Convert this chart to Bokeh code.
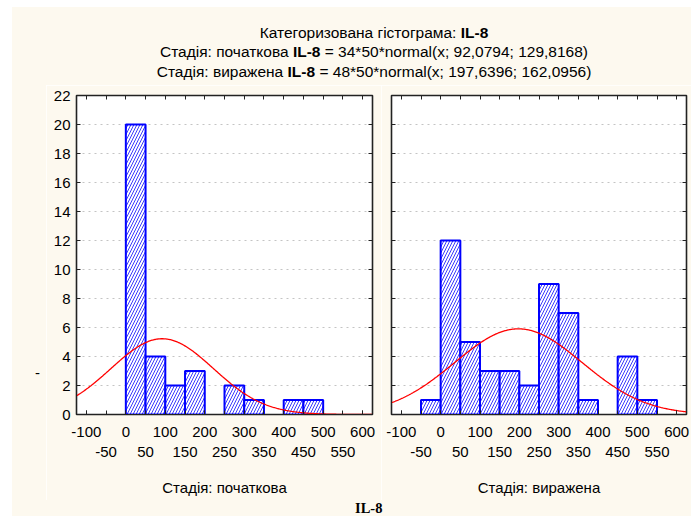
import numpy as np
from bokeh.plotting import figure
from bokeh.models import LinearAxis, FixedTicker, Range1d, Div
from bokeh.layouts import column, row
from bokeh.embed import file_html
from bokeh.resources import INLINE

# ---------------- data ----------------
bin_left = [-50, 0, 50, 100, 150, 200, 250, 300, 350, 400, 450, 500, 550]
bin_width = 50
counts_initial = [0, 20, 4, 2, 3, 0, 2, 1, 0, 1, 1, 0, 0]
counts_expressed = [1, 12, 5, 3, 3, 2, 9, 7, 1, 0, 4, 1, 0]
n_initial, mean_initial, sd_initial = 34, 92.0794, 129.8168
n_expressed, mean_expressed, sd_expressed = 48, 197.6396, 162.0956
x_ticks_row1 = [-100, 0, 100, 200, 300, 400, 500, 600]
x_ticks_row2 = [-50, 50, 150, 250, 350, 450, 550]
y_ticks = [0, 2, 4, 6, 8, 10, 12, 14, 16, 18, 20, 22]
panel_titles = ["Стадія: початкова", "Стадія: виражена"]
variable = "IL-8"
y_label = "-"
main_title = "Категоризована гістограма: "

CREAM = "#FDF9EF"
FONT = "Liberation Sans"
BLUE = "#0000FF"
RED = "#FF0000"
FRAME = "#222222"
FIG_H = 415


def fmt(v):
    return f"{v:.4f}".replace(".", ",")


def hyphen_overrides(ticks):
    return {t: str(t) for t in ticks if t < 0}


def make_panel(counts, n, mu, sd, subtitle, show_y, width, b_left, b_right):
    p = figure(width=width, height=FIG_H, x_range=Range1d(-125, 625), y_range=Range1d(0, 22),
               output_backend="svg", toolbar_location=None,
               min_border_left=b_left, min_border_right=b_right,
               min_border_top=10, min_border_bottom=86,
               background_fill_color="white", border_fill_color=CREAM,
               outline_line_color=FRAME, outline_line_width=1.6)
    p.xgrid.visible = False
    p.ygrid[0].ticker = FixedTicker(ticks=y_ticks)
    p.ygrid.grid_line_color = "#c4c4c4"
    p.ygrid.grid_line_dash = "dotted"
    p.ygrid.grid_line_width = 1

    # bottom axis, first row of labels
    xa = p.xaxis[0]
    xa.ticker = FixedTicker(ticks=x_ticks_row1, minor_ticks=sorted(x_ticks_row1 + x_ticks_row2))
    xa.major_label_overrides = hyphen_overrides(x_ticks_row1)
    xa.major_tick_in = 4
    xa.major_tick_out = 0
    xa.minor_tick_in = 4
    xa.minor_tick_out = 0
    xa.major_tick_line_color = FRAME
    xa.minor_tick_line_color = FRAME
    xa.axis_line_color = FRAME
    xa.major_label_standoff = 12
    xa.major_label_text_font = FONT
    xa.major_label_text_font_size = "15px"
    xa.major_label_text_color = "black"

    # second row of labels + panel subtitle
    xa2 = LinearAxis(ticker=FixedTicker(ticks=x_ticks_row2, minor_ticks=[]))
    xa2.major_label_overrides = hyphen_overrides(x_ticks_row2)
    xa2.axis_line_color = None
    xa2.major_tick_in = 0
    xa2.major_tick_out = 0
    xa2.minor_tick_in = 0
    xa2.minor_tick_out = 0
    xa2.major_label_standoff = 7
    xa2.major_label_text_font = FONT
    xa2.major_label_text_font_size = "15px"
    xa2.major_label_text_color = "black"
    xa2.axis_label = subtitle
    xa2.axis_label_text_font = FONT
    xa2.axis_label_text_font_size = "15px"
    xa2.axis_label_text_font_style = "normal"
    xa2.axis_label_text_color = "black"
    xa2.axis_label_standoff = 19
    p.add_layout(xa2, "below")

    # top ticks
    xt = LinearAxis(ticker=FixedTicker(ticks=[], minor_ticks=sorted(x_ticks_row1 + x_ticks_row2)))
    xt.minor_tick_in = 4
    xt.minor_tick_out = 0
    xt.minor_tick_line_color = FRAME
    xt.axis_line_color = FRAME
    p.add_layout(xt, "above")

    # left axis
    ya = p.yaxis[0]
    if show_y:
        ya.ticker = FixedTicker(ticks=y_ticks, minor_ticks=[])
        ya.major_label_standoff = 6
        ya.major_label_text_font = FONT
        ya.major_label_text_font_size = "15px"
        ya.major_label_text_color = "black"
    else:
        ya.ticker = FixedTicker(ticks=[], minor_ticks=y_ticks)
    ya.major_tick_in = 4
    ya.major_tick_out = 0
    ya.minor_tick_in = 4
    ya.minor_tick_out = 0
    ya.major_tick_line_color = FRAME
    ya.minor_tick_line_color = FRAME
    ya.axis_line_color = FRAME

    # right ticks
    yr = LinearAxis(ticker=FixedTicker(ticks=[], minor_ticks=y_ticks))
    yr.minor_tick_in = 4
    yr.minor_tick_out = 0
    yr.minor_tick_line_color = FRAME
    yr.axis_line_color = FRAME
    p.add_layout(yr, "right")

    # histogram bars
    lefts = [l for l, c in zip(bin_left, counts) if c > 0]
    tops = [c for c in counts if c > 0]
    rights = [l + bin_width for l in lefts]
    p.quad(left=lefts, right=rights, bottom=0, top=tops,
           fill_color="white", hatch_pattern="/", hatch_color="#3a3aff",
           hatch_scale=6, hatch_weight=1.0,
           line_color=BLUE, line_width=2)

    # fitted normal curve
    xs = np.linspace(-125, 625, 401)
    ys = n * bin_width * np.exp(-0.5 * ((xs - mu) / sd) ** 2) / (sd * np.sqrt(2 * np.pi))
    p.line(xs, ys, line_color=RED, line_width=1.3)
    return p


p1 = make_panel(counts_initial, n_initial, mean_initial, sd_initial, panel_titles[0],
                True, 335, 30, 9)
p2 = make_panel(counts_expressed, n_expressed, mean_expressed, sd_expressed, panel_titles[1],
                False, 310, 10, 5)

left_html = (f'<div style="padding-left:23px;padding-top:280px;line-height:16px;'
             f'font-family:\'{FONT}\',Arial,sans-serif;font-size:15px;color:#000;">{y_label}</div>')
left_div = Div(text=left_html, width=34, height=FIG_H, margin=0,
               styles={"background-color": CREAM})

line1 = f"{main_title}<b>{variable}</b>"
line2 = (f"{panel_titles[0]} <b>{variable}</b> = {n_initial}*{bin_width}*normal(x; "
         f"{fmt(mean_initial)}; {fmt(sd_initial)})")
line3 = (f"{panel_titles[1]} <b>{variable}</b> = {n_expressed}*{bin_width}*normal(x; "
         f"{fmt(mean_expressed)}; {fmt(sd_expressed)})")
ls = "display:block;white-space:nowrap;text-align:center;width:620px;"
top_html = (f'<div style="margin-left:52px;width:620px;padding-top:16px;'
            f'font-family:\'{FONT}\',Arial,sans-serif;font-size:15.5px;color:#000;">'
            f'<div style="{ls}height:19px;line-height:20px;">{line1}</div>'
            f'<div style="{ls}height:20px;line-height:20px;">{line2}</div>'
            f'<div style="{ls}height:20px;line-height:20px;">{line3}</div></div>')
top_div = Div(text=top_html, width=679, height=78, margin=0,
              styles={"background-color": CREAM})

bottom_html = (f'<div style="padding-left:343px;padding-top:1px;line-height:14px;'
               f'font-family:\'Liberation Serif\',\'Times New Roman\',serif;font-size:14.5px;'
               f'font-weight:bold;color:#000;white-space:nowrap;">{variable}</div>')
bottom_div = Div(text=bottom_html, width=679, height=16, margin=0,
                 styles={"background-color": CREAM})

layout = column(top_div, row(left_div, p1, p2, spacing=0), bottom_div, spacing=0,
                margin=(7, 0, 0, 12))

open("out.html", "w").write(file_html(layout, INLINE))
